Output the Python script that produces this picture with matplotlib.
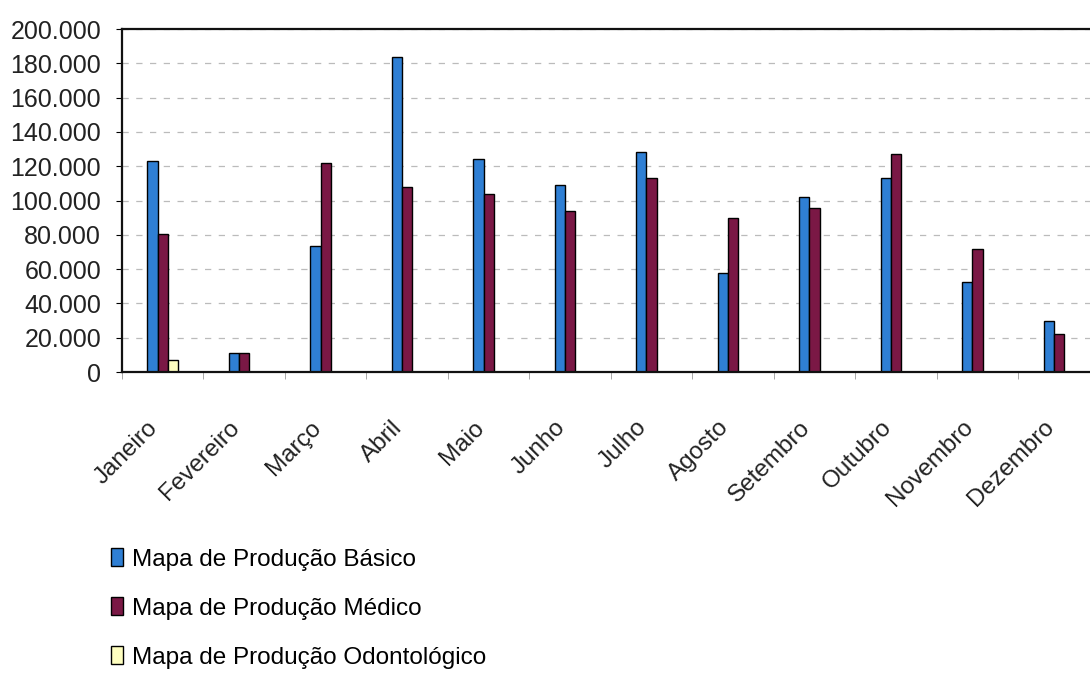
import numpy as np
import matplotlib
matplotlib.use("Agg")
import matplotlib.pyplot as plt
from matplotlib.ticker import FuncFormatter, FixedLocator

plt.rcParams['font.family'] = ['Liberation Sans', 'DejaVu Sans']

meses = ['Janeiro', 'Fevereiro', 'Março', 'Abril', 'Maio', 'Junho',
         'Julho', 'Agosto', 'Setembro', 'Outubro', 'Novembro', 'Dezembro']
basico = [123200, 11100, 73500, 183900, 124200, 109000,
          128300, 57900, 102000, 112900, 52300, 29900]
medico = [80200, 11100, 121900, 108000, 103800, 94000,
          113300, 89600, 95400, 127100, 71900, 22000]
odonto = [6800, 0, 0, 0, 0, 0, 0, 0, 0, 0, 0, 0]
series_labels = ['Mapa de Produção Básico', 'Mapa de Produção Médico',
                 'Mapa de Produção Odontológico']

fig = plt.figure(figsize=(10.9, 6.76), dpi=100)
ax = fig.add_axes([0.1119, 0.4497, 0.897, 0.5073])

x = np.arange(len(meses))
w = 0.125
b1 = ax.bar(x - w, basico, w, color='#2f7fd4', edgecolor='black', linewidth=1.0, label=series_labels[0])
b2 = ax.bar(x, medico, w, color='#7a1845', edgecolor='black', linewidth=1.0, label=series_labels[1])
b3 = ax.bar(x + w, odonto, w, color='#ffffc0', edgecolor='black', linewidth=1.0, label=series_labels[2])

ax.set_xlim(-0.5, len(meses) - 0.5)
ax.set_ylim(0, 200000)
ax.set_yticks(range(0, 200001, 20000))
ax.yaxis.set_major_formatter(FuncFormatter(lambda v, p: f"{int(v):,}".replace(',', '.')))
ax.yaxis.grid(True, linestyle=(0, (5, 6)), color='#bbbbbb', linewidth=0.9)
ax.set_axisbelow(True)

ax.set_xticks(x)
ax.set_xticklabels(meses, rotation=45, ha='right', fontsize=17.5, color='#222222')
ax.xaxis.set_minor_locator(FixedLocator(np.arange(-0.5, len(meses), 1)))
ax.tick_params(axis='x', which='major', length=0, pad=32)
ax.tick_params(axis='x', which='minor', length=5, color='#999999')
ax.tick_params(axis='y', length=4, labelsize=18, labelcolor='#222222', pad=11)

for s in ['top', 'left', 'bottom']:
    ax.spines[s].set_linewidth(1.6)
    ax.spines[s].set_color('#111111')
ax.spines['right'].set_visible(False)

fig.legend(handles=[b1, b2, b3], loc='upper left', bbox_to_anchor=(0.093, 0.204), frameon=False,
           fontsize=17.5, handlelength=0.5, handleheight=0.8, handletextpad=0.35,
           labelspacing=1.08, borderaxespad=0)

fig.savefig('out.png', dpi=100)
